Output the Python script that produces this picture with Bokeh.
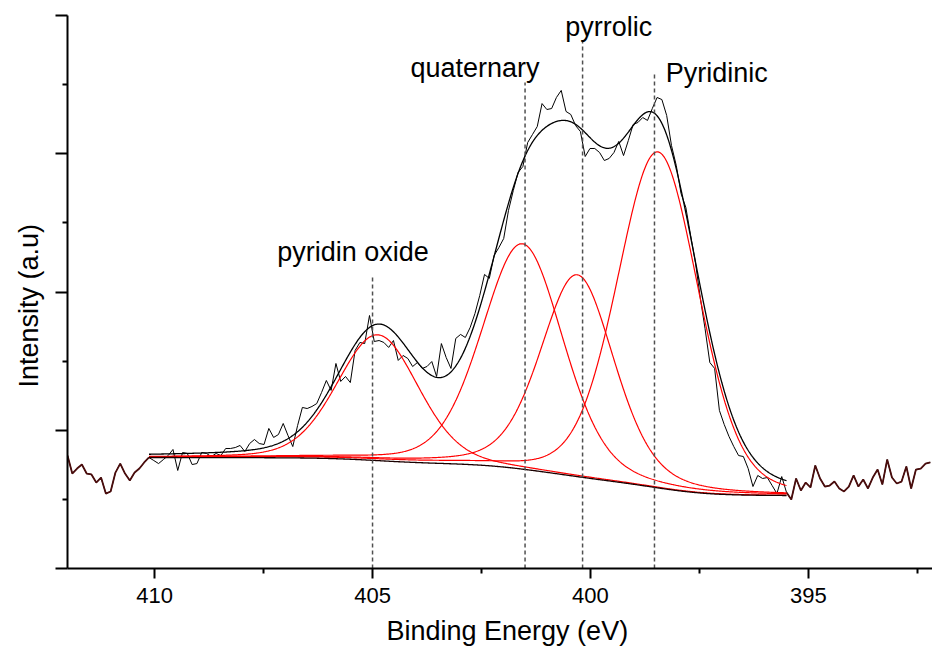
import numpy as np
from bokeh.plotting import figure
from bokeh.models import Range1d, FixedTicker, CustomJSTickFormatter, ColumnDataSource, Title
from bokeh.embed import file_html
from bokeh.resources import INLINE
from bokeh.core.properties import value

FONT = "Liberation Sans"

# ---------------- raw N 1s spectrum, one point every 0.11 eV from 412.0 eV ----
raw_start_ev = 412.0
raw_step_ev = 0.11
raw_intensity = [
    0.817, 0.687, 0.723, 0.752, 0.687, 0.680, 0.622, 0.658, 0.542, 0.557,
    0.694, 0.759, 0.687, 0.637, 0.694, 0.723, 0.767, 0.803, 0.781, 0.759,
    0.788, 0.817, 0.861, 0.709, 0.839, 0.832, 0.752, 0.759, 0.839, 0.832,
    0.810, 0.832, 0.817, 0.868, 0.868, 0.875, 0.890, 0.846, 0.904, 0.933,
    0.904, 0.897, 1.013, 0.948, 0.969, 1.049, 0.962, 0.882, 1.034, 1.165,
    1.157, 1.172, 1.193, 1.273, 1.360, 1.288, 1.483, 1.353, 1.389, 1.345,
    1.577, 1.635, 1.627, 1.830, 1.642, 1.649, 1.635, 1.599, 1.649, 1.505,
    1.541, 1.519, 1.461, 1.490, 1.447, 1.461, 1.497, 1.389, 1.627, 1.526,
    1.447, 1.664, 1.693, 1.671, 1.743, 1.844, 1.975, 2.127, 2.098, 2.264,
    2.322, 2.387, 2.590, 2.734, 2.864, 2.908, 3.081, 3.139, 3.197, 3.363,
    3.320, 3.327, 3.407, 3.458, 3.306, 3.284, 3.204, 3.161, 2.980, 3.038,
    3.038, 3.009, 2.951, 2.966, 3.009, 3.089, 2.987, 3.096, 3.212, 3.226,
    3.262, 3.241, 3.327, 3.407, 3.392, 3.277, 3.060, 2.915, 2.712, 2.611,
    2.409, 2.213, 1.960, 1.736, 1.490, 1.447, 1.143, 1.042, 0.955, 0.882,
    0.817, 0.810, 0.723, 0.593, 0.673, 0.651, 0.658, 0.600, 0.542, 0.665,
    0.550, 0.499, 0.651, 0.564, 0.622, 0.586, 0.745, 0.651, 0.593, 0.600,
    0.629, 0.579, 0.557, 0.593, 0.673, 0.593, 0.644, 0.579, 0.658, 0.716,
    0.608, 0.788, 0.658, 0.615, 0.629, 0.738, 0.579, 0.716, 0.723, 0.759, 0.767,
]
raw_energy = [round(raw_start_ev - raw_step_ev * i, 2) for i in range(len(raw_intensity))]

# ---------------- fit (peak parameters) ----------------
fit_window_ev = [410.13, 395.50]          # high-BE end, low-BE end of the fitted region
background_ends = [0.803, 0.528]          # background level at the high-BE end / low-BE end
peak_names = ["pyridin oxide", "quaternary", "pyrrolic", "Pyridinic"]
peak_center_ev = [404.88, 401.56, 400.30, 398.45]
peak_height = [0.91, 1.63, 1.46, 2.43]
peak_fwhm_ev = [2.2, 2.2, 2.0, 2.2]
lorentz_fraction = [0.2, 0.25, 0.32, 0.2]

# ---------------- annotations ----------------
marker_ev = [405.0, 401.5, 400.18, 398.53]
marker_top = [2.12, 3.515, 3.82, 3.59]
label_text = ["pyridin oxide", "quaternary", "pyrrolic", "Pyridinic"]
label_ev = [405.45, 402.65, 399.58, 397.10]
label_y = [2.290, 3.620, 3.915, 3.585]

x_ticks = [410, 405, 400, 395]
x_minor_ticks = [407.5, 402.5, 397.5, 392.5]
y_ticks = [0, 1, 2, 3, 4]
y_minor_ticks = [0.5, 1.5, 2.5, 3.5]

x_title = "Binding Energy (eV)"
y_title = "Intensity (a.u)"

# ---------------- model curves ----------------
e_fit = np.linspace(fit_window_ev[0], fit_window_ev[1], 800)


def gl_peak(e, c, h, w, m):
    x = (e - c) / w
    return h * ((1 - m) * np.exp(-4 * np.log(2) * x ** 2) + m / (1 + 4 * x ** 2))


peaks = [gl_peak(e_fit, c, h, w, m)
         for c, h, w, m in zip(peak_center_ev, peak_height, peak_fwhm_ev, lorentz_fraction)]
peak_sum = np.sum(peaks, axis=0)

# Shirley-type background from the peak areas
e_asc = e_fit[::-1]
s_asc = peak_sum[::-1]
cum = np.concatenate([[0.0], np.cumsum(0.5 * (s_asc[1:] + s_asc[:-1]) * np.diff(e_asc))])
frac = cum / cum[-1]
bg = (background_ends[1] + (background_ends[0] - background_ends[1]) * frac)[::-1]
envelope = bg + peak_sum

# ---------------- figure ----------------
p = figure(width=932, height=655, title=None,
           x_range=Range1d(412.0, 392.15), y_range=Range1d(0, 4),
           output_backend="svg", toolbar_location=None,
           min_border_left=67, min_border_right=0, min_border_top=15, min_border_bottom=87)
p.outline_line_color = None
p.grid.visible = False
p.background_fill_color = "white"
p.border_fill_color = "white"

xa = p.xaxis[0]
ya = p.yaxis[0]
xa.ticker = FixedTicker(ticks=x_ticks, minor_ticks=x_minor_ticks)
ya.ticker = FixedTicker(ticks=y_ticks, minor_ticks=y_minor_ticks)
ya.formatter = CustomJSTickFormatter(code="return ''")
for ax in (xa, ya):
    ax.axis_line_width = 2
    ax.axis_line_color = "black"
    ax.major_tick_line_width = 2
    ax.minor_tick_line_width = 2
    ax.major_tick_line_color = "black"
    ax.minor_tick_line_color = "black"
    ax.major_tick_in = 0
    ax.minor_tick_in = 0
    ax.minor_tick_out = 5
    ax.major_label_text_font = FONT
    ax.major_label_text_font_size = "22px"
    ax.major_label_text_color = "black"
xa.major_tick_out = 10
ya.major_tick_out = 12
xa.major_label_standoff = 9
ya.major_label_standoff = 0

# axis titles as side titles (start-aligned with an offset, like the reference)
p.add_layout(Title(text=x_title, align="left", offset=319, standoff=17,
                   text_font=FONT, text_font_size="27px", text_font_style="normal",
                   text_color="black"), "below")
p.add_layout(Title(text=y_title, align="left", offset=181, standoff=23,
                   text_font=FONT, text_font_size="27px", text_font_style="normal",
                   text_color="black"), "left")

# raw data
raw_src = ColumnDataSource(dict(e=raw_energy, y=raw_intensity))
p.line("e", "y", source=raw_src, line_color="black", line_width=1)

# data outside the fit window (components coincide with data there)
i_left = [i for i, e in enumerate(raw_energy) if e >= fit_window_ev[0]]
i_right = [i for i, e in enumerate(raw_energy) if e <= fit_window_ev[1]]
for idx in (i_left, i_right):
    p.line([raw_energy[i] for i in idx], [raw_intensity[i] for i in idx],
           line_color="#4a0d0d", line_width=1.8)

# components (peak + background)
for pk in peaks:
    p.line(e_fit, bg + pk, line_color="#ff0000", line_width=1.2)
p.line(e_fit, bg, line_color="#1a0000", line_width=1.3)
p.line(e_fit, envelope, line_color="black", line_width=1.3)

# dashed markers
p.segment(x0=marker_ev, y0=[0] * len(marker_ev), x1=marker_ev, y1=marker_top,
          line_color="#505050", line_width=1.5, line_dash="4 3")

# peak labels
p.text(x=label_ev, y=label_y, text=label_text, text_font=value(FONT),
       text_font_size="27px", text_align="center", text_baseline="alphabetic",
       text_color="black")

open("out.html", "w").write(file_html(p, INLINE))
